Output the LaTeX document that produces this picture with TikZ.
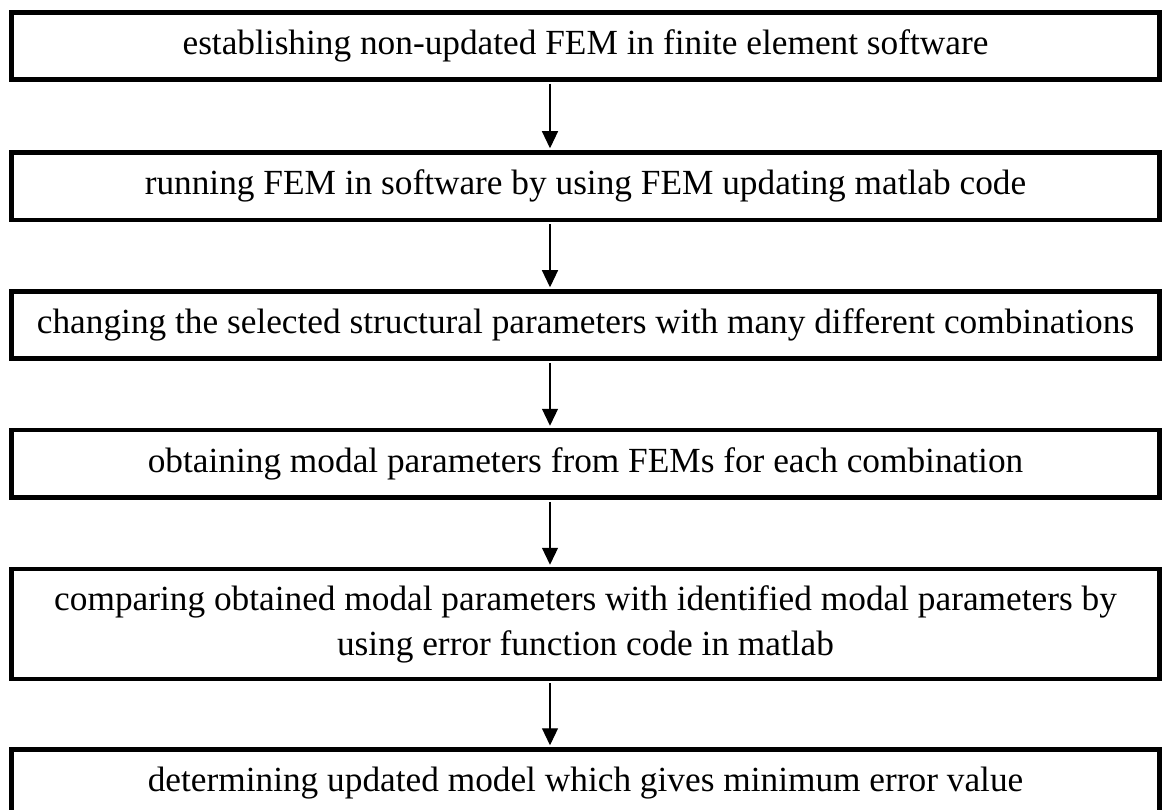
\documentclass[tikz,border=0pt]{standalone}
\usepackage{fontspec}
\setmainfont{Liberation Serif}
\usetikzlibrary{arrows.meta}
\begin{document}
\begin{tikzpicture}[x=1pt,y=1pt,
  stepbox/.style={draw=black, line width=4.5pt, minimum width=1148pt, inner sep=0pt,
    font=\fontsize{35.3}{45}\selectfont, align=center},
  arr/.style={-{Triangle[length=17pt,width=16pt]}, line width=1.2pt, shorten >=2pt, shorten <=2pt}]
\useasboundingbox (0,0) rectangle (1162,-810);
\clip (0,0) rectangle (1162,-810);
\node[stepbox, minimum height=67pt] (b1) at (585.5,-46) {establishing non-updated FEM in finite element software};
\node[stepbox, minimum height=67.5pt] (b2) at (585.5,-186.25) {running FEM in software by using FEM updating matlab code};
\node[stepbox, minimum height=67pt] (b3) at (585.5,-325) {changing the selected structural parameters with many different combinations};
\node[stepbox, minimum height=67.5pt] (b4) at (585.5,-463.75) {obtaining modal parameters from FEMs for each combination};
\node[stepbox, minimum height=110pt] (b5) at (585.5,-624) {comparing obtained modal parameters with identified modal parameters by\\ using error function code in matlab};
\node[stepbox, minimum height=67pt] (b6) at (585.5,-783) {determining updated model which gives minimum error value};
\foreach \a/\b in {b1/b2,b2/b3,b3/b4,b4/b5,b5/b6}
  \draw[arr] ([xshift=-35.5pt]\a.south) -- ([xshift=-35.5pt]\b.north);
\end{tikzpicture}
\end{document}
